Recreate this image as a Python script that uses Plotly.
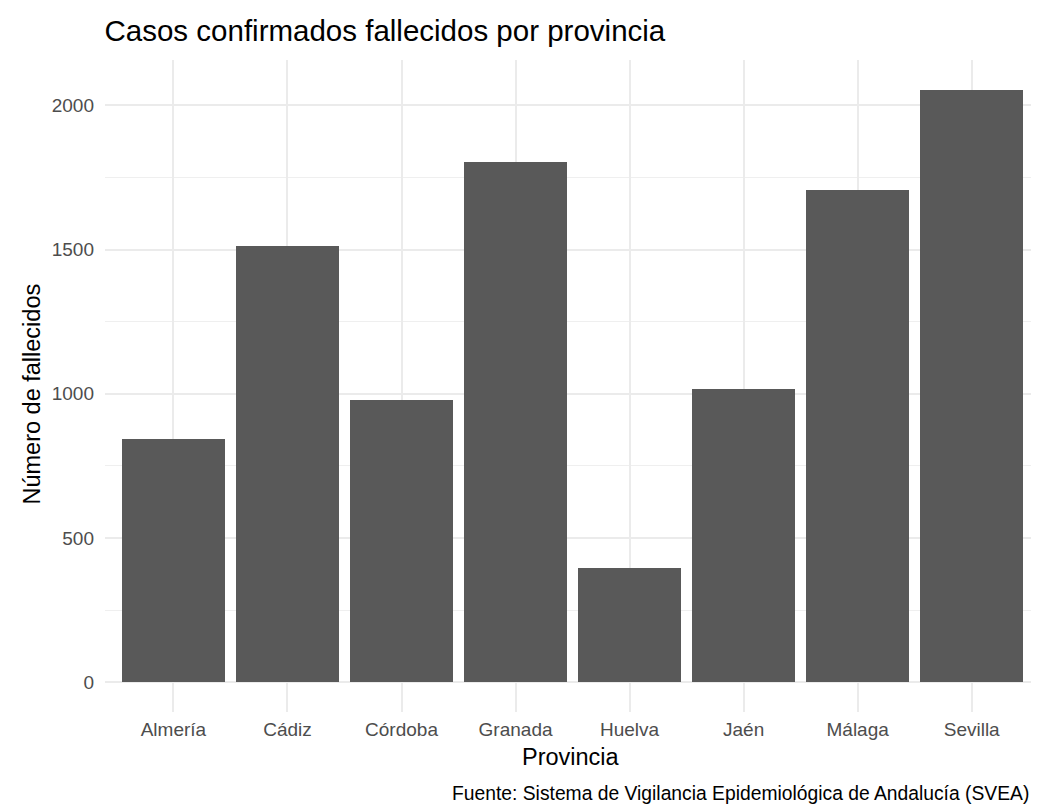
import plotly.graph_objects as go

provincias = ["Almería", "Cádiz", "Córdoba", "Granada", "Huelva", "Jaén", "Málaga", "Sevilla"]
fallecidos = [842, 1511, 977, 1802, 395, 1016, 1705, 2054]
y_ticks = [0, 500, 1000, 1500, 2000]

titulo = "Casos confirmados fallecidos por provincia"
x_titulo = "Provincia"
y_titulo = "Número de fallecidos"
fuente = "Fuente: Sistema de Vigilancia Epidemiológica de Andalucía (SVEA)"

FONT = "Liberation Sans, Arial, Helvetica, sans-serif"

# page has an 8px body margin; figure coordinates = page coordinates - 8
OFF = 8
W, H = 1039 - 2 * OFF, 805 - OFF

ymax = max(fallecidos)
pad = 0.05 * ymax

fig = go.Figure(
    go.Bar(
        x=provincias,
        y=fallecidos,
        width=0.9,
        marker=dict(color="#595959", line=dict(width=0)),
        hoverinfo="x+y",
    )
)

L = 104.5 - OFF
T = 60 - OFF
BOT = 712 - OFF
B = H - BOT
R = 0
plot_w = W - L - R
plot_h = H - T - B
px_per_cat = 114.1
x_range = [-0.6, -0.6 + plot_w / px_per_cat]


def py(page_y):
    """page y -> paper y"""
    return (BOT - (page_y - OFF)) / plot_h


def px(page_x):
    return ((page_x - OFF) - L) / plot_w


fig.update_layout(
    width=W,
    height=H,
    margin=dict(l=L, r=R, t=T, b=B, pad=0),
    paper_bgcolor="white",
    plot_bgcolor="white",
    font=dict(family=FONT, color="#000000"),
    showlegend=False,
    bargap=0,
    title=dict(
        text=titulo,
        x=L / W,
        xref="container",
        xanchor="left",
        y=1 - (31 - OFF) / H,
        yref="container",
        yanchor="middle",
        font=dict(size=29.5, color="#000000", family=FONT),
    ),
    xaxis=dict(
        range=x_range,
        showgrid=True,
        gridcolor="#ebebeb",
        gridwidth=1.5,
        zeroline=False,
        showline=False,
        ticks="",
        tickfont=dict(size=19, color="#4d4d4d", family=FONT),
        ticklabelstandoff=4,
    ),
    yaxis=dict(
        range=[-pad, ymax + pad],
        tickvals=y_ticks,
        ticktext=[str(v) for v in y_ticks],
        showgrid=True,
        gridcolor="#ebebeb",
        gridwidth=1.5,
        zeroline=False,
        showline=False,
        ticks="",
        tickfont=dict(size=19, color="#4d4d4d", family=FONT),
        ticklabelstandoff=10,
        minor=dict(dtick=250, tick0=0, showgrid=True, gridcolor="#efefef", gridwidth=1),
    ),
    annotations=[
        dict(
            text=x_titulo,
            xref="paper", yref="paper",
            x=px(571), y=py(757),
            xanchor="center", yanchor="middle",
            showarrow=False,
            font=dict(size=23.5, color="#000000", family=FONT),
        ),
        dict(
            text=y_titulo,
            xref="paper", yref="paper",
            x=px(31), y=py(394),
            xanchor="center", yanchor="middle",
            textangle=-90,
            showarrow=False,
            font=dict(size=23.5, color="#000000", family=FONT),
        ),
        dict(
            text=fuente,
            xref="paper", yref="paper",
            x=1.0, y=py(793),
            xanchor="right", yanchor="middle",
            showarrow=False,
            font=dict(size=19.3, color="#000000", family=FONT),
        ),
    ],
)

fig.write_html("out.html")
